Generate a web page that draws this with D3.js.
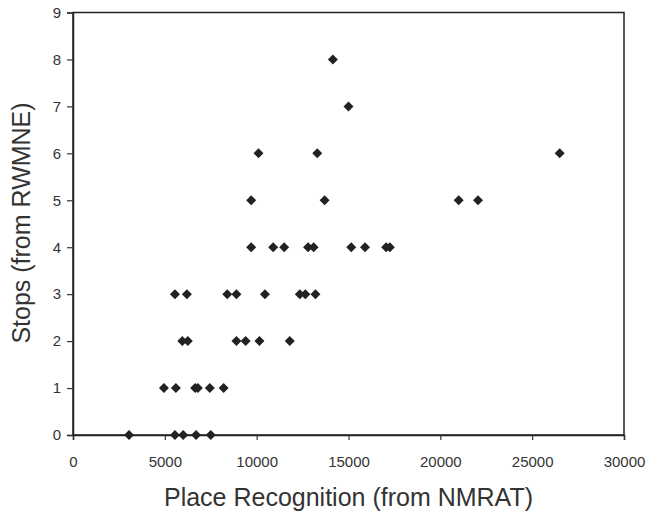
<!DOCTYPE html>
<html>
<head>
<meta charset="utf-8">
<script src="https://cdn.jsdelivr.net/npm/d3@7"></script>
<style>
  body { margin: 0; background: #fff; }
  svg { display: block; font-family: Arial, "Liberation Sans", sans-serif; }
</style>
</head>
<body>
<svg id="chart" width="648" height="516"></svg>
<script>
// place recognition score (x) for each stops value (y)
var stops0 = [3050, 5550, 6000, 6700, 7500];
var stops1 = [4950, 5600, 6650, 6800, 7450, 8200];
var stops2 = [5950, 6250, 8900, 9400, 10150, 11800];
var stops3 = [5550, 6200, 8400, 8900, 10450, 12350, 12650, 13200];
var stops4 = [9700, 10900, 11500, 12800, 13100, 15150, 15900, 17050, 17250];
var stops5 = [9700, 13700, 21000, 22050];
var stops6 = [10100, 13300, 26500];
var stops7 = [15000];
var stops8 = [14150];

var xTicks = [0, 5000, 10000, 15000, 20000, 25000, 30000];
var yTicks = [0, 1, 2, 3, 4, 5, 6, 7, 8, 9];

var groups = [stops0, stops1, stops2, stops3, stops4, stops5, stops6, stops7, stops8];
var points = [];
groups.forEach(function(g, i) {
  g.forEach(function(v) { points.push({x: v, y: i}); });
});

var svg = d3.select("#chart");
var margin = {top: 12.5, right: 24, bottom: 81, left: 73};
var width = 648 - margin.left - margin.right,
    height = 516 - margin.top - margin.bottom;

var x = d3.scaleLinear().domain([0, 30000]).range([0, width]);
var y = d3.scaleLinear().domain([0, 9]).range([height, 0]);

var g = svg.append("g")
    .attr("transform", "translate(" + margin.left + "," + margin.top + ")");

// frame
g.append("rect")
    .attr("width", width)
    .attr("height", height)
    .attr("fill", "none")
    .attr("stroke", "#222")
    .attr("stroke-width", 1.5);

var axisX = g.append("g")
    .attr("transform", "translate(0," + height + ")")
    .call(d3.axisBottom(x).tickValues(xTicks).tickSize(5).tickPadding(16).tickFormat(d3.format("d")));

var axisY = g.append("g")
    .call(d3.axisLeft(y).tickValues(yTicks).tickSize(6).tickPadding(6));

[axisX, axisY].forEach(function(a) {
  a.select(".domain").attr("stroke", "#222").attr("stroke-width", 1.5);
  a.selectAll(".tick line").attr("stroke", "#333").attr("stroke-width", 1.2);
  a.selectAll(".tick text")
      .attr("fill", "#333")
      .style("font-size", "15px")
      .style("font-family", "Arial, 'Liberation Sans', sans-serif");
});

// markers
g.append("g")
    .selectAll("path")
    .data(points)
    .enter().append("path")
    .attr("d", d3.symbol().type(d3.symbolSquare).size(50))
    .attr("transform", function(d) {
      return "translate(" + x(d.x) + "," + y(d.y) + ") rotate(45)";
    })
    .attr("fill", "#222");

// axis titles
svg.append("text")
    .attr("x", margin.left + width / 2)
    .attr("y", 506)
    .attr("text-anchor", "middle")
    .attr("fill", "#333")
    .style("font-size", "25px")
    .text("Place Recognition (from NMRAT)");

svg.append("text")
    .attr("transform", "rotate(-90)")
    .attr("x", -223)
    .attr("y", 30)
    .attr("text-anchor", "middle")
    .attr("fill", "#333")
    .style("font-size", "25px")
    .text("Stops (from RWMNE)");
</script>
</body>
</html>
